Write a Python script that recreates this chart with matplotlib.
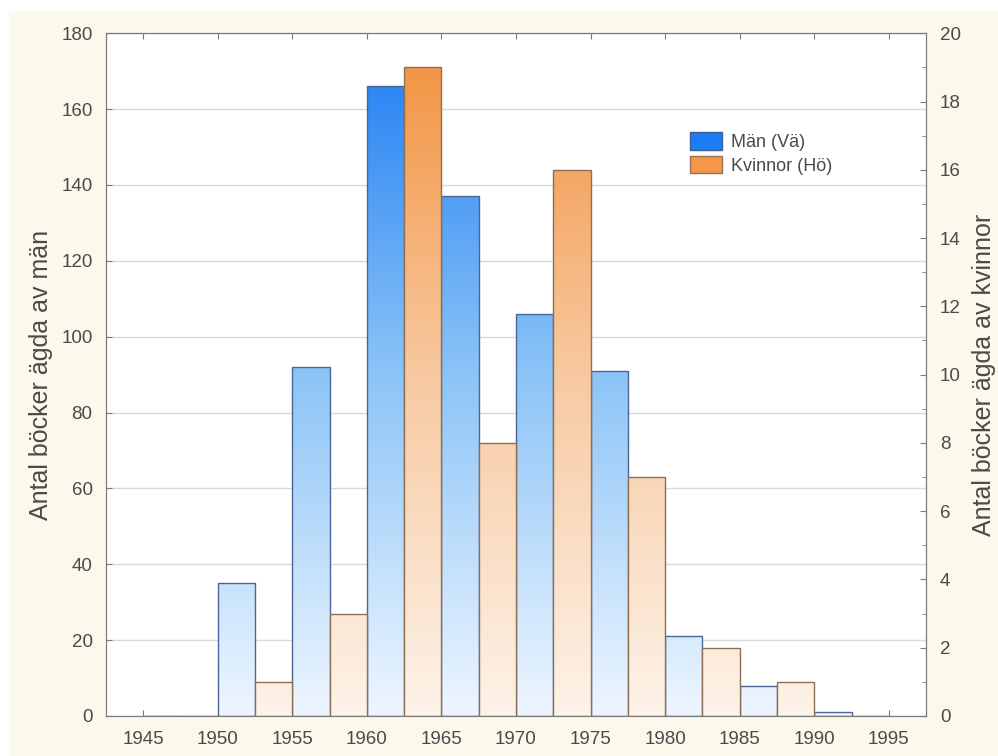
import numpy as np
import matplotlib
matplotlib.use("Agg")
import matplotlib.pyplot as plt
from matplotlib.colors import LinearSegmentedColormap
from matplotlib.patches import Patch, Rectangle

# data (5-year birth cohorts)
years = [1945, 1950, 1955, 1960, 1965, 1970, 1975, 1980, 1985, 1990]
men = [0, 35, 92, 166, 137, 106, 91, 21, 8, 1]
women = [0, 1, 3, 19, 8, 16, 7, 2, 1, 0]
xticks = [1945, 1950, 1955, 1960, 1965, 1970, 1975, 1980, 1985, 1990, 1995]

BG = "#fcf8ec"
TXT = "#4a4a4a"
plt.rcParams["font.family"] = ["Liberation Sans", "DejaVu Sans"]

blue_cm = LinearSegmentedColormap.from_list("b", ["#eef6ff", "#8cc4f7", "#1c7cf3"])
orange_cm = LinearSegmentedColormap.from_list("o", ["#fdf3e9", "#f8c9a0", "#f2903c"])
grad = np.linspace(0, 1, 256).reshape(-1, 1)

fig = plt.figure(figsize=(9.98, 7.56), dpi=100, facecolor="white")
# cream panel, leaving a thin white strip top/left like the original
fig.patches.append(Rectangle((9 / 998, 0), 1, 1 - 11 / 756, transform=fig.transFigure,
                             facecolor=BG, edgecolor="none", zorder=-10))
ax = fig.add_axes([0.106, 0.053, 0.822, 0.903])
ax2 = ax.twinx()


def gradient_bars(a, x, h, ymax, cmap, edge):
    bars = a.bar(x, h, width=2.5, align="edge", facecolor="none",
                 edgecolor=edge, linewidth=1.0, zorder=3)
    for b in bars:
        if b.get_height() <= 0:
            continue
        im = a.imshow(grad, cmap=cmap, origin="lower", aspect="auto",
                      extent=(b.get_x(), b.get_x() + b.get_width(), 0, ymax),
                      zorder=2, interpolation="bilinear")
        im.set_clip_path(b)
    return bars


gradient_bars(ax, years, men, 180, blue_cm, "#4b6596")
gradient_bars(ax2, [y + 2.5 for y in years], women, 20, orange_cm, "#8c6f55")

ax.set_xlim(1942.5, 1997.5)
ax.set_ylim(0, 180)
ax2.set_ylim(0, 20)
ax.set_xticks(xticks)
ax.set_yticks(range(0, 181, 20))
ax2.set_yticks(range(0, 21, 2))
ax2.set_yticks(range(1, 20, 2), minor=True)
ax.yaxis.grid(True, color="#d9d9d9", linewidth=1.0, zorder=0)
ax.set_axisbelow(True)

for a in (ax, ax2):
    for s in a.spines.values():
        s.set_color("#7a7a7a")
    a.tick_params(direction="in", length=4, color="#7a7a7a",
                  labelcolor=TXT, labelsize=13.5, top=True)
ax2.tick_params(which="minor", direction="in", length=3, color="#7a7a7a")
ax.tick_params(axis="x", pad=11)
ax.tick_params(axis="y", pad=9.5)
ax2.tick_params(axis="y", pad=10)

ax.set_ylabel("Antal böcker ägda av män", fontsize=18, color=TXT, labelpad=6)
ax2.set_ylabel("Antal böcker ägda av kvinnor", fontsize=18, color=TXT, labelpad=8)

handles = [Patch(facecolor="#1c7cf3", edgecolor="#3d5f96", label="Män (Vä)"),
           Patch(facecolor="#f5984a", edgecolor="#9a7050", label="Kvinnor (Hö)")]
ax2.legend(handles=handles, loc="upper left", bbox_to_anchor=(0.701, 0.868),
           frameon=False, fontsize=13, handlelength=1.8, handleheight=1.1,
           labelspacing=0.25, handletextpad=0.5, borderpad=0, labelcolor=TXT)

fig.savefig("out.png", dpi=100)
